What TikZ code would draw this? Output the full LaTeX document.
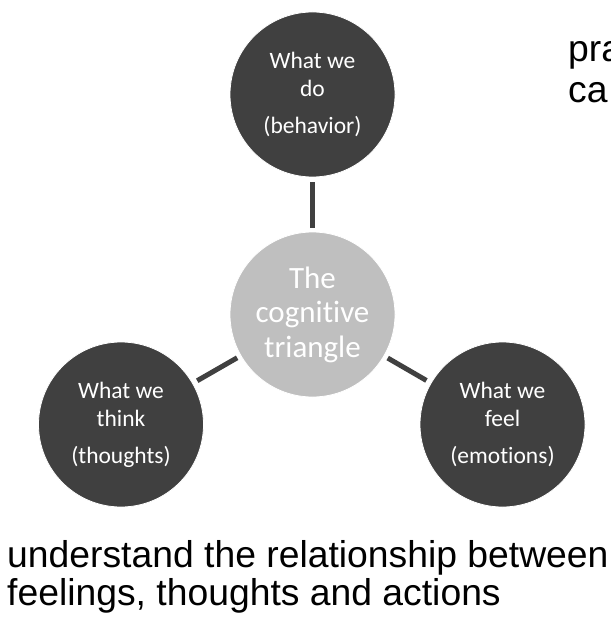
\documentclass[tikz,border=0pt]{standalone}
\usepackage{fontspec}
\setmainfont{Liberation Sans}
\newfontfamily\carlitofont[Ligatures=NoCommon]{Carlito}
\definecolor{darkc}{HTML}{404040}
\definecolor{lightc}{HTML}{BFBFBF}
\begin{document}
\begin{tikzpicture}[x=1pt,y=-1pt,
  outer/.style={circle, minimum size=165pt, inner sep=0pt, fill=darkc, draw=white, line width=0.8pt,
    text=white, align=center, font=\carlitofont\fontsize{23.5}{28}\selectfont},
  hub/.style={circle, minimum size=165pt, inner sep=0pt, fill=lightc, draw=white, line width=0.8pt,
    text=white, align=center, font=\carlitofont\fontsize{31}{34.5}\selectfont},
  link/.style={draw=darkc, line width=5pt, shorten <=5pt, shorten >=4pt},
  body/.style={inner sep=0pt, anchor=base west, align=left, font=\fontsize{37.3}{40}\selectfont, text=black}]
\useasboundingbox[fill=white] (0,0) rectangle (610,620);
\node[outer] (do) at (312.5,94.5) {What we\\do\\[9pt](behavior)};
\node[hub] (tri) at (312.5,314.5) {The\\cognitive\\triangle};
\node[outer] (think) at (121,424.5) {What we\\think\\[9pt](thoughts)};
\node[outer] (feel) at (502.5,424.5) {What we\\feel\\[9pt](emotions)};
\draw[link] (do) -- (tri);
\draw[link] (think) -- (tri);
\draw[link] (feel) -- (tri);
\node[body] (pra) at (568,62) {pra};
\node[body] (ca) at (568,103) {ca};
\node[body] (l1) at (7,567) {understand the relationship between};
\node[body] (l2) at (7,605) {feelings, thoughts and actions};
\end{tikzpicture}
\end{document}
